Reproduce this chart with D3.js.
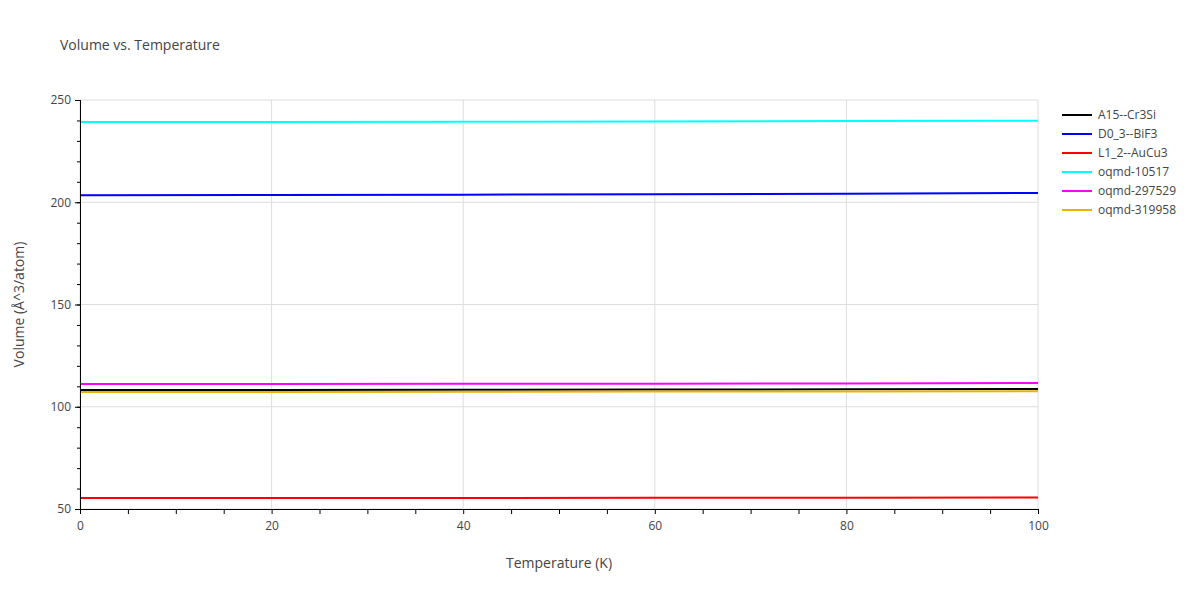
<!DOCTYPE html>
<html><head><meta charset="utf-8">
<script src="https://cdn.jsdelivr.net/npm/d3@7"></script>
<style>body{margin:0;background:#fff;font-family:"Open Sans",Arial,sans-serif;}</style>
</head><body><svg id="c" width="1200" height="600"></svg>
<script>
var temps = [0, 20, 40, 60, 80, 100];
var seriesNames = ["A15--Cr3Si", "D0_3--BiF3", "L1_2--AuCu3", "oqmd-10517", "oqmd-297529", "oqmd-319958"];
var seriesColors = ["#000000", "#0000ff", "#ff0000", "#00ffff", "#ff00ff", "#f0b000"];
var vA15 = [108.2, 108.2, 108.3, 108.4, 108.5, 108.7];
var vD03 = [203.4, 203.5, 203.7, 203.9, 204.2, 204.5];
var vL12 = [55.4, 55.4, 55.4, 55.5, 55.5, 55.6];
var vOq1 = [239.2, 239.3, 239.4, 239.5, 239.7, 239.9];
var vOq2 = [111.1, 111.1, 111.2, 111.3, 111.4, 111.6];
var vOq3 = [107.2, 107.2, 107.3, 107.4, 107.5, 107.6];
var seriesValues = [vA15, vD03, vL12, vOq1, vOq2, vOq3];
var xTicks = [0, 20, 40, 60, 80, 100];
var yTicks = [50, 100, 150, 200, 250];

var svg = d3.select("#c");
var L = 80, R = 1038, T = 100, B = 509;
var x = d3.scaleLinear().domain([0, 100]).range([L, R]);
var y = d3.scaleLinear().domain([50, 250]).range([B, T]);

svg.append("text").attr("x", 60).attr("y", 50).attr("font-size", 14).attr("fill", "#444").text("Volume vs. Temperature");

var g = svg.append("g");
g.selectAll(".vg").data(xTicks).enter().append("line")
  .attr("x1", d => x(d)).attr("x2", d => x(d)).attr("y1", T).attr("y2", B)
  .attr("stroke", "#ddd");
g.selectAll(".hg").data(yTicks).enter().append("line")
  .attr("x1", L).attr("x2", R).attr("y1", d => y(d)).attr("y2", d => y(d))
  .attr("stroke", "#ddd");

var line = d3.line().x((d, i) => x(temps[i])).y(d => y(d));
seriesValues.forEach(function (vals, k) {
  svg.append("path").datum(vals).attr("d", line).attr("fill", "none")
    .attr("stroke", seriesColors[k]).attr("stroke-width", 2);
});

var xa = svg.append("g").attr("transform", "translate(0," + B + ")")
  .call(d3.axisBottom(x).tickValues(xTicks).tickSize(0).tickPadding(12));
svg.append("g").attr("transform", "translate(0," + B + ")")
  .call(d3.axisBottom(x).tickValues(d3.range(0, 101, 5)).tickSize(5).tickFormat(""));
var ya = svg.append("g").attr("transform", "translate(" + L + ",0)")
  .call(d3.axisLeft(y).tickValues(yTicks).tickSize(5).tickPadding(4));
svg.append("g").attr("transform", "translate(" + L + ",0)")
  .call(d3.axisLeft(y).tickValues(d3.range(50, 251, 10)).tickSize(3).tickFormat(""));
svg.selectAll(".domain").attr("stroke", "#000");
svg.selectAll(".tick line").attr("stroke", "#000");
svg.selectAll(".tick text").attr("font-size", 12).attr("fill", "#444").attr("font-family", "Open Sans, Arial");

svg.append("text").attr("x", (L + R) / 2).attr("y", 568).attr("text-anchor", "middle")
  .attr("font-size", 14).attr("fill", "#444").text("Temperature (K)");
svg.append("text").attr("transform", "translate(24," + ((T + B) / 2) + ") rotate(-90)")
  .attr("text-anchor", "middle").attr("font-size", 14).attr("fill", "#444").text("Volume (Å^3/atom)");

var lg = svg.append("g").attr("transform", "translate(1062,115)");
seriesNames.forEach(function (n, i) {
  var r = lg.append("g").attr("transform", "translate(0," + i * 19 + ")");
  r.append("line").attr("x1", 0).attr("x2", 30).attr("stroke", seriesColors[i]).attr("stroke-width", 2);
  r.append("text").attr("x", 36).attr("y", 4).attr("font-size", 12).attr("fill", "#444").text(n);
});
</script></body></html>
